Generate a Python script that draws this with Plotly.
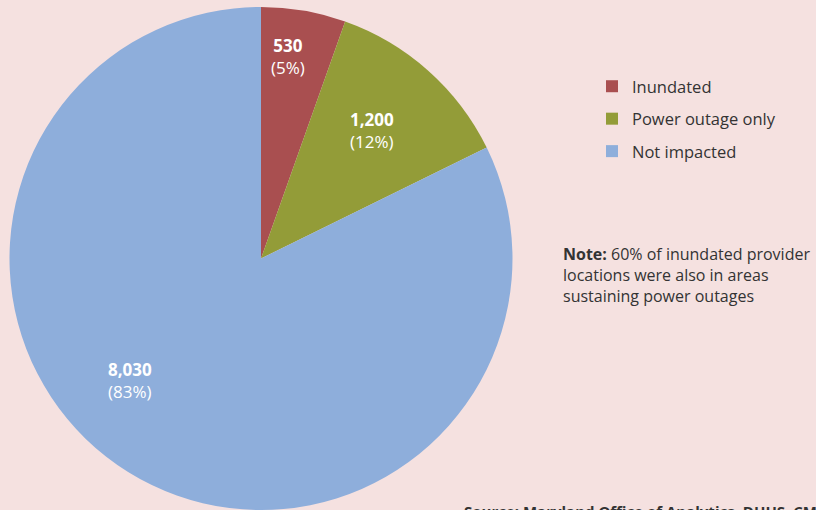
import plotly.graph_objects as go

categories = ["Inundated", "Power outage only", "Not impacted"]
values = [530, 1200, 8030]
pct_labels = ["5%", "12%", "83%"]
colors = ["#a94f50", "#939c38", "#8eaedb"]

W, H = 816, 510
FONT = "Open Sans"
TEXT = "#333333"

fig = go.Figure()
fig.add_trace(go.Pie(
    labels=categories,
    values=values,
    sort=False,
    direction="clockwise",
    rotation=0,
    marker=dict(colors=colors, line=dict(width=0)),
    textinfo="none",
    hoverinfo="label+value",
    showlegend=False,
    domain=dict(x=[9 / W, 513 / W], y=[0, 1 - 7 / H]),
))

# legend entries (one group each so spacing can be set)
for cat, col in zip(categories, colors):
    fig.add_trace(go.Scatter(
        x=[None], y=[None], mode="markers", name=cat,
        legendgroup=cat,
        marker=dict(symbol="square", size=16, color=col),
    ))

# slice labels (value bold, percent below)
label_pos = [(288, 56), (372, 130), (130, 380)]
for v, p, (px, py) in zip(values, pct_labels, label_pos):
    fig.add_annotation(
        x=px / W, y=1 - py / H, xref="paper", yref="paper",
        xanchor="center", yanchor="middle", align="center", showarrow=False,
        text=f"<b>{v:,}</b><br>({p})",
        font=dict(family=FONT, size=17, color="white"),
    )

fig.add_annotation(
    x=561 / W, y=1 - 252 / H, xref="paper", yref="paper",
    xanchor="left", yanchor="middle", align="left", showarrow=False,
    text="<b>Note:</b> 60% of inundated provider<br>locations were also in areas<br>sustaining power outages",
    font=dict(family=FONT, size=16, color=TEXT),
    yshift=-23,
)
fig.add_annotation(
    x=462 / W, y=1 - 499 / H, xref="paper", yref="paper",
    xanchor="left", yanchor="top", align="left", showarrow=False,
    text="<b>Source: Maryland Office of Analytics, DHHS, CMS</b>",
    font=dict(family=FONT, size=15, color=TEXT),
)

fig.update_layout(
    width=W, height=H,
    margin=dict(l=0, r=0, t=0, b=0),
    paper_bgcolor="#f5e1e0",
    plot_bgcolor="#f5e1e0",
    showlegend=True,
    xaxis=dict(visible=False),
    yaxis=dict(visible=False),
    legend=dict(
        x=592 / W, y=1 - 69 / H, xanchor="left", yanchor="top",
        font=dict(family=FONT, size=16.5, color=TEXT),
        bgcolor="rgba(0,0,0,0)",
        itemsizing="constant",
        tracegroupgap=8,
        itemclick=False, itemdoubleclick=False,
    ),
    font=dict(family=FONT),
)

fig.write_html("out.html", config={"displayModeBar": False},
               post_script="document.body.style.margin='0';")
